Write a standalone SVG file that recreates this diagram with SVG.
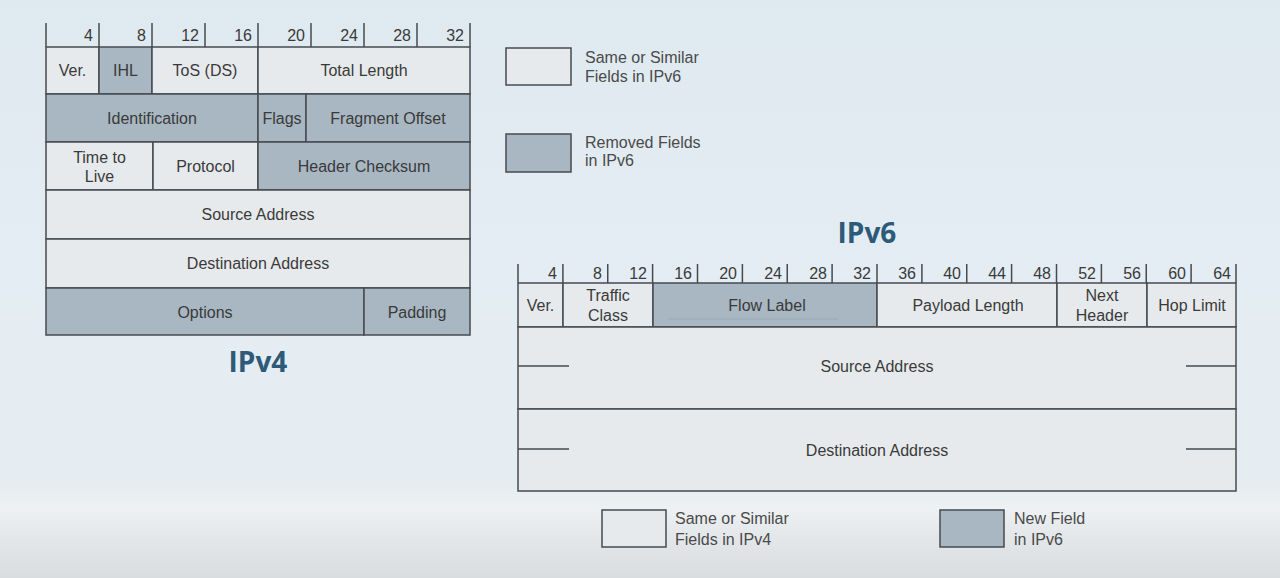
<svg xmlns="http://www.w3.org/2000/svg" width="1280" height="578" viewBox="0 0 1280 578">
<defs>
<linearGradient id="bg" x1="0" y1="0" x2="0" y2="1">
<stop offset="0" stop-color="#dfe9f0"/>
<stop offset="0.5" stop-color="#e4edf3"/>
<stop offset="0.84" stop-color="#e6edf1"/>
<stop offset="0.88" stop-color="#eef1f3"/>
<stop offset="0.93" stop-color="#e3e7ea"/>
<stop offset="1" stop-color="#d9dde0"/>
</linearGradient>
<style>
.lt{fill:#e6eaec;stroke:#464b50;stroke-width:1.5}
.dk{fill:#a8b7c2;stroke:#464b50;stroke-width:1.5}
.ln{stroke:#464b50;stroke-width:1.5;fill:none}
.t{font-family:"Liberation Sans",Arial,sans-serif;font-size:16px;fill:#3a3a3a;text-anchor:middle}
.n{font-family:"Liberation Sans",Arial,sans-serif;font-size:16px;fill:#3a3a3a;text-anchor:end}
.lg{font-family:"Liberation Sans",Arial,sans-serif;font-size:16px;fill:#4a4a4a}
.ttl{font-family:"Open Sans","DejaVu Sans",sans-serif;font-size:28px;font-weight:bold;fill:#2d5a78;text-anchor:middle}
</style>
</defs>
<rect width="1280" height="578" fill="url(#bg)"/>

<!-- IPv4 -->
<g id="ipv4-ticks">
<path class="ln" d="M46,23V47M99,23V47M152,23V47M205,23V47M258,23V47M311,23V47M364,23V47M417,23V47M470,23V47"/>
<text class="n" x="93" y="41">4</text>
<text class="n" x="146" y="41">8</text>
<text class="n" x="199" y="41">12</text>
<text class="n" x="252" y="41">16</text>
<text class="n" x="305" y="41">20</text>
<text class="n" x="358" y="41">24</text>
<text class="n" x="411" y="41">28</text>
<text class="n" x="464" y="41">32</text>
</g>
<g id="v4-ver"><rect class="lt" x="46" y="47" width="53" height="47"/><text class="t" x="72.5" y="76">Ver.</text></g>
<g id="v4-ihl"><rect class="dk" x="99" y="47" width="53" height="47"/><text class="t" x="125.5" y="76">IHL</text></g>
<g id="v4-tos"><rect class="lt" x="152" y="47" width="106" height="47"/><text class="t" x="205" y="76">ToS (DS)</text></g>
<g id="v4-totlen"><rect class="lt" x="258" y="47" width="212" height="47"/><text class="t" x="364" y="76">Total Length</text></g>
<g id="v4-ident"><rect class="dk" x="46" y="94" width="212" height="48"/><text class="t" x="152" y="124">Identification</text></g>
<g id="v4-flags"><rect class="dk" x="258" y="94" width="48" height="48"/><text class="t" x="282" y="124">Flags</text></g>
<g id="v4-fragoff"><rect class="dk" x="306" y="94" width="164" height="48"/><text class="t" x="388" y="124">Fragment Offset</text></g>
<g id="v4-ttl"><rect class="lt" x="46" y="142" width="107" height="48"/><text class="t" x="99.5" y="163">Time to</text><text class="t" x="99.5" y="182">Live</text></g>
<g id="v4-proto"><rect class="lt" x="153" y="142" width="105" height="48"/><text class="t" x="205.5" y="172">Protocol</text></g>
<g id="v4-csum"><rect class="dk" x="258" y="142" width="212" height="48"/><text class="t" x="364" y="172">Header Checksum</text></g>
<g id="v4-src"><rect class="lt" x="46" y="190" width="424" height="49"/><text class="t" x="258" y="220">Source Address</text></g>
<g id="v4-dst"><rect class="lt" x="46" y="239" width="424" height="49"/><text class="t" x="258" y="269">Destination Address</text></g>
<g id="v4-opts"><rect class="dk" x="46" y="288" width="318" height="47"/><text class="t" x="205" y="318">Options</text></g>
<g id="v4-pad"><rect class="dk" x="364" y="288" width="106" height="47"/><text class="t" x="417" y="318">Padding</text></g>
<text class="ttl" x="258" y="372">IPv4</text>

<!-- Top legend -->
<g id="legend-same-v6"><rect class="lt" x="506" y="48" width="65" height="37"/><text class="lg" x="585" y="63">Same or Similar</text><text class="lg" x="585" y="82">Fields in IPv6</text></g>
<g id="legend-removed"><rect class="dk" x="506" y="134" width="65" height="38"/><text class="lg" x="585" y="148">Removed Fields</text><text class="lg" x="585" y="166">in IPv6</text></g>

<!-- IPv6 -->
<text class="ttl" x="867" y="243">IPv6</text>
<g id="ipv6-ticks">
<path class="ln" d="M518,264V283M562.9,264V283M607.75,264V283M652.6,264V283M697.5,264V283M742.4,264V283M787.25,264V283M832.1,264V283M877,264V283M921.9,264V283M966.75,264V283M1011.6,264V283M1056.5,264V283M1101.4,264V283M1146.25,264V283M1191.1,264V283M1236,264V283"/>
<text class="n" x="557" y="279">4</text>
<text class="n" x="602" y="279">8</text>
<text class="n" x="647" y="279">12</text>
<text class="n" x="692" y="279">16</text>
<text class="n" x="737" y="279">20</text>
<text class="n" x="782" y="279">24</text>
<text class="n" x="827" y="279">28</text>
<text class="n" x="871" y="279">32</text>
<text class="n" x="916" y="279">36</text>
<text class="n" x="961" y="279">40</text>
<text class="n" x="1006" y="279">44</text>
<text class="n" x="1051" y="279">48</text>
<text class="n" x="1096" y="279">52</text>
<text class="n" x="1141" y="279">56</text>
<text class="n" x="1186" y="279">60</text>
<text class="n" x="1231" y="279">64</text>
</g>
<g id="v6-ver"><rect class="lt" x="518" y="283" width="45" height="44"/><text class="t" x="540.5" y="311">Ver.</text></g>
<g id="v6-tc"><rect class="lt" x="563" y="283" width="90" height="44"/><text class="t" x="608" y="301">Traffic</text><text class="t" x="608" y="321">Class</text></g>
<g id="v6-flow"><rect class="dk" x="653" y="283" width="224" height="44"/><line x1="668" y1="319" x2="838" y2="319" stroke="#9aa7b0" stroke-width="1"/><text class="t" x="767" y="311">Flow Label</text></g>
<g id="v6-plen"><rect class="lt" x="877" y="283" width="180" height="44"/><text class="t" x="968" y="311">Payload Length</text></g>
<g id="v6-nh"><rect class="lt" x="1057" y="283" width="90" height="44"/><text class="t" x="1102" y="301">Next</text><text class="t" x="1102" y="321">Header</text></g>
<g id="v6-hop"><rect class="lt" x="1147" y="283" width="89" height="44"/><text class="t" x="1192" y="311">Hop Limit</text></g>
<g id="v6-src"><rect class="lt" x="518" y="327" width="718" height="82"/><path class="ln" d="M518,366H569M1186,366H1236"/><text class="t" x="877" y="372">Source Address</text></g>
<g id="v6-dst"><rect class="lt" x="518" y="409" width="718" height="82"/><path class="ln" d="M518,449H569M1186,449H1236"/><text class="t" x="877" y="456">Destination Address</text></g>

<!-- Bottom legend -->
<g id="legend-same-v4"><rect class="lt" x="602" y="510" width="64" height="37"/><text class="lg" x="675" y="524">Same or Similar</text><text class="lg" x="675" y="545">Fields in IPv4</text></g>
<g id="legend-new"><rect class="dk" x="940" y="510" width="64" height="37"/><text class="lg" x="1014" y="524">New Field</text><text class="lg" x="1014" y="545">in IPv6</text></g>
<g id="connectors"/>
</svg>
